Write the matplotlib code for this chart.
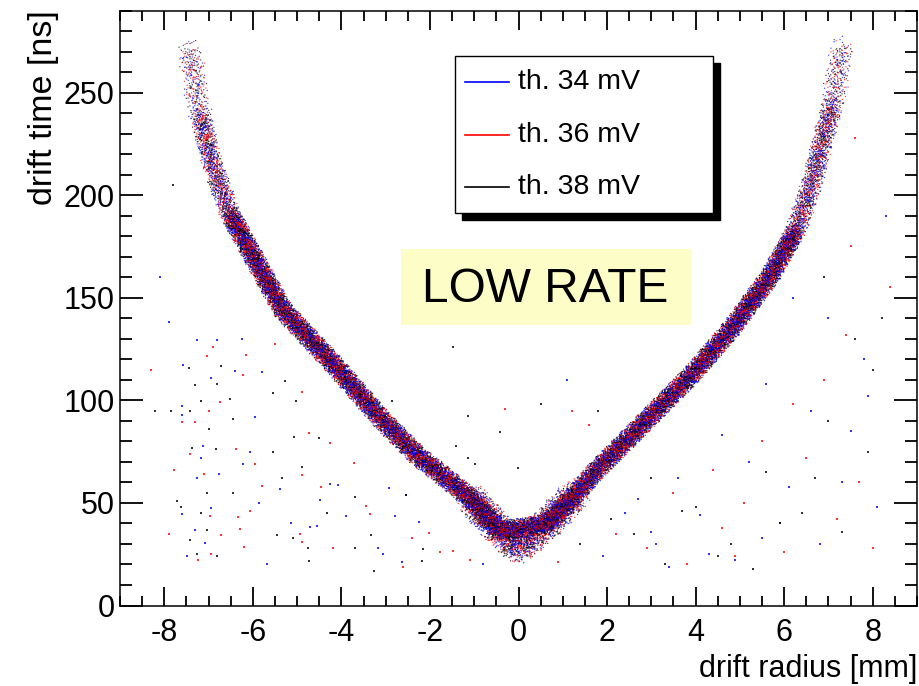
import numpy as np
import matplotlib
matplotlib.use("Agg")
import matplotlib.pyplot as plt
import matplotlib.transforms as mtransforms
from matplotlib.patches import Rectangle
from matplotlib.ticker import MultipleLocator

plt.rcParams["font.family"] = ["Liberation Sans", "DejaVu Sans"]
plt.rcParams["axes.unicode_minus"] = False
plt.rcParams["lines.scale_dashes"] = False

# r-t relation: centre of the dense band (drift radius [mm], drift time [ns])
band_r = [-7.45, -7.38, -7.20, -6.93, -6.52, -5.91, -5.32, -4.19, -3.06, -2.23, -1.86,
          -1.10, -0.43, 0.00, 0.63, 1.30, 1.68, 2.13, 2.81, 3.93, 4.84,
          5.29, 5.67, 6.27, 6.64, 6.87, 7.10, 7.25, 7.32]
band_t = [272, 265, 240, 216, 191, 167, 144, 118, 90, 72, 66,
          52.6, 36.3, 28, 39.6, 54.3, 64, 73.8, 88.5, 112.9, 135.7,
          149, 160, 183, 207, 227, 245, 264, 272]

thresholds = ["th. 34 mV", "th. 36 mV", "th. 38 mV"]
colors = ["#0000ff", "#ff0000", "#000000"]

# isolated hits away from the band, per threshold
bg_34_r = [-7.25, -6.8, -6.25, -7.57, -6.95, -6.4, -5.8, -7.6, -7.6, -5.95, -7.13, -7.16,
           -6.07, -7.27, -6.76, -6.23, -7.6, -6.95, -7.31, -7.08, -7.49, -5.67, -4.71,
           -4.26, -4.07, -3.9, -3.17, -3.06, -2.79, -2.64, -2.25, -5.14, -4.56, -5.87,
           -5.39, -4.49, -2.92, -2.53, 2.4, 3.1, 3.6, 4.3, 5.2, 5.9, 6.6, 7.3, 7.8, 4.9, 6.2,
           1.9, 2.7, 3.4, 4.1, 4.6, 5.5, 6.1, 6.8, 7.5, 8.1, 7.9, 7.0, 5.6, 3.0, -0.8, 1.1,
           -8.1, -7.9, 8.3]
bg_34_t = [129.4, 129.6, 130, 117, 111, 114.5, 114, 97, 93, 92, 77.8, 72,
           74.6, 62.3, 64.3, 69, 44.7, 47.7, 36.8, 30.6, 24, 20, 38.2,
           59, 58.8, 43.4, 28, 25.2, 43.4, 21.1, 40.8, 40, 38.7, 50.1,
           56.6, 51.6, 57.5, 53.9, 45, 30, 62, 25, 70, 40, 95, 60, 120, 22, 150,
           24, 52, 19, 44, 83, 33, 58, 30, 85, 48, 102, 140, 108, 36, 20, 110,
           160, 138, 190]
bg_36_r = [-6.91, -7.03, -6.16, -6.23, -6.74, -7.6, -7.3, -7.0, -7.78, -7.43, -7.1, -6.37,
           -5.95, -5.5, -4.88, -4.73, -4.9, -4.45, -5.8, -6.97, -6.07, -6.34, -6.29,
           -7.89, -7.23, -6.95, -6.19, -6.71, -4.94, -4.88, -4.2, -3.45, -3.36, -2.6,
           -2.4, -2.02, -1.78, -1.1, -1.48, -3.72, -4.26, 2.9, 3.5, 4.6, 5.5, 6.0,
           6.9, 7.5, 7.7, 1.2, 2.2, 3.8, 4.4, 5.1, 6.5, 7.2, 8.0, 7.4, 6.2, 4.9, 1.6,
           -0.3, 0.9, -8.3, 7.6, 8.4]
bg_36_t = [126.2, 121.8, 122, 112.2, 99, 89.2, 89.2, 94.9, 65.9, 74, 64, 76.2,
           69.2, 127.5, 103.9, 84.3, 63.6, 58, 58.3, 43.6, 46, 43.1, 37.1,
           35, 22, 25.2, 28.5, 34.3, 35, 31.1, 27.8, 48.3, 44.7, 18.7,
           33, 35.3, 26.2, 22.3, 26.5, 69.3, 79.4, 28, 55, 38, 80, 26,
           110, 175, 60, 95, 35, 20, 66, 50, 72, 42, 28, 132, 98, 24, 88,
           96, 21, 115, 228, 155]
bg_38_r = [-7.44, -6.73, -7.31, -6.82, -7.16, -6.52, -7.42, -7.85, -6.44, -6.98, -7.37,
           -6.83, -5.55, -5.28, -5.03, -5.07, -4.5, -4.88, -5.33, -5.55, -6.44, -7.03,
           -7.17, -7.72, -7.62, -7.03, -7.42, -7.25, -6.8, -5.45, -5.09, -4.74, -4.75,
           -4.33, -3.7, -3.7, -3.32, -3.26, -2.53, -2.15, -2.17, -2.85, -1.48, -1.14,
           -1.42, -0.41, -1.15, -0.99, -0.01, 2.6, 3.3, 4.0, 4.8, 5.6, 6.4, 7.0, 7.6, 1.8, 8.2,
           2.1, 3.0, 4.5, 5.3, 5.9, 6.7, 7.3, 7.9, 8.0, 6.9, 3.7, 1.4, 0.5, -8.2, -7.8]
bg_38_t = [115.6, 116.9, 107.6, 108, 99.8, 100.6, 94.9, 94.6, 90.8, 86, 77,
           76.2, 103.4, 109.6, 99.5, 82.2, 81.7, 67.7, 62.3, 74.9, 54.7, 54.7,
           45.2, 50.9, 48, 36.6, 31.9, 24.9, 24.1, 34.2, 32.7, 21.9, 27.8,
           44.9, 52.9, 28.1, 34.3, 17, 53.9, 27.3, 21.6, 99.8, 125.9, 92.5,
           77.5, 84.8, 71.8, 68.9, 67.2, 35, 20, 48, 30, 65, 45, 90, 130, 95, 140,
           42, 62, 24, 18, 40, 62, 36, 75, 115, 160, 46, 30, 98, 95, 205]
bg_r = [bg_34_r, bg_36_r, bg_38_r]
bg_t = [bg_34_t, bg_36_t, bg_38_t]

W, H = 920, 686
fig = plt.figure(figsize=(W / 100, H / 100), dpi=100)
x0, x1, y_top, y_bot = 120, 917, 10.5, 605.5
ax = fig.add_axes([x0 / W, (H - y_bot) / H, (x1 - x0) / W, (y_bot - y_top) / H])
ax.set_xlim(-9, 9)
ax.set_ylim(0, 290)

r = np.array(band_r)
t = np.array(band_t)


def speckle(mask, radius, step, period, alpha, lw=0.85):
    """Fill a band around the r-t curve with offset, phase-shifted dotted lines."""
    offs = np.arange(-radius, radius + 1e-9, step)
    k = 0
    for dx in offs:
        for dy in offs:
            d = np.hypot(dx, dy)
            if d > radius:
                continue
            gap = period * (1 + 3.0 * (d / radius) ** 2)
            for c in colors:
                k += 1
                phase = (k * 0.618 * gap) % gap
                tr = mtransforms.offset_copy(ax.transData, fig=fig, x=dx, y=dy, units="points")
                ax.plot(r[mask], t[mask], color=c, lw=lw, alpha=alpha, transform=tr,
                        linestyle=(phase, (lw, gap)), dash_capstyle="butt")


left, right = r < 0, r > 0
# dense middle part
speckle((left & (t <= 191)) | (right & (t <= 183)), radius=7.5, step=0.9, period=6.5, alpha=0.85)
# thinning upper arms, then the sparse tips (neighbouring pieces share one joint point)
speckle(left & (t >= 191) & (t <= 240), radius=8.0, step=1.2, period=11.0, alpha=0.8)
speckle(right & (t >= 183) & (t <= 245), radius=8.0, step=1.2, period=11.0, alpha=0.8)
speckle(left & (t >= 240), radius=9.0, step=1.5, period=22.0, alpha=0.75)
speckle(right & (t >= 245), radius=9.0, step=1.5, period=22.0, alpha=0.75)
# broader spread close to the wire
speckle(np.abs(r) <= 1.4, radius=12.0, step=1.3, period=12.0, alpha=0.8)

for c, xs, ys in zip(colors, bg_r, bg_t):
    ax.scatter(xs, ys, s=2.4, marker="s", linewidths=0, color=c, alpha=0.8)

# ticks on all four sides, pointing in
ax.xaxis.set_major_locator(MultipleLocator(2))
ax.xaxis.set_minor_locator(MultipleLocator(0.5))
ax.yaxis.set_major_locator(MultipleLocator(50))
ax.yaxis.set_minor_locator(MultipleLocator(10))
ax.tick_params(axis="x", which="both", direction="in", top=True, labelsize=22, pad=9, width=1.3)
ax.tick_params(axis="y", which="both", direction="in", right=True, labelsize=22, pad=4, width=1.3)
ax.tick_params(axis="x", which="major", length=13.7)
ax.tick_params(axis="x", which="minor", length=7.2)
ax.tick_params(axis="y", which="major", length=16.5)
ax.tick_params(axis="y", which="minor", length=8.6)
for s in ax.spines.values():
    s.set_linewidth(1.1)

ax.set_xlabel("drift radius [mm]", fontsize=22, loc="right", labelpad=4)
ax.set_ylabel("drift time [ns]", fontsize=24.5, loc="top", labelpad=3)


def to_ax(px, py):
    return (px - x0) / (x1 - x0), (y_bot - py) / (y_bot - y_top)


# legend box with hard drop shadow
lx0, ly0 = to_ax(455, 213)
lx1, ly1 = to_ax(713, 55.7)
sx, sy = to_ax(462, 220)
ax.add_patch(Rectangle((sx, sy), lx1 - lx0, ly1 - ly0, transform=ax.transAxes,
                       facecolor="black", edgecolor="black", zorder=5))
ax.add_patch(Rectangle((lx0, ly0), lx1 - lx0, ly1 - ly0, transform=ax.transAxes,
                       facecolor="white", edgecolor="black", lw=1.0, zorder=6))
for label, c, py in zip(thresholds, colors, [81.7, 135, 186.7]):
    ha, yy = to_ax(465, py)
    hb, _ = to_ax(509, py)
    ax.plot([ha, hb], [yy, yy], color=c, lw=1.2, transform=ax.transAxes, zorder=7)
    tx, _ = to_ax(518, py)
    ax.text(tx, yy, label, transform=ax.transAxes, fontsize=20.5, va="center",
            ha="left", zorder=7)

# run-condition tag
bx0, by0 = to_ax(401, 325)
bx1, by1 = to_ax(691, 249)
ax.add_patch(Rectangle((bx0, by0), bx1 - bx0, by1 - by0, transform=ax.transAxes,
                       facecolor="#fdfdc8", edgecolor="none", zorder=5))
cx, cy = to_ax(545, 289)
ax.text(cx, cy, "LOW RATE", transform=ax.transAxes, fontsize=34.5, ha="center",
        va="center", zorder=6)

fig.savefig("out.png", dpi=100)
